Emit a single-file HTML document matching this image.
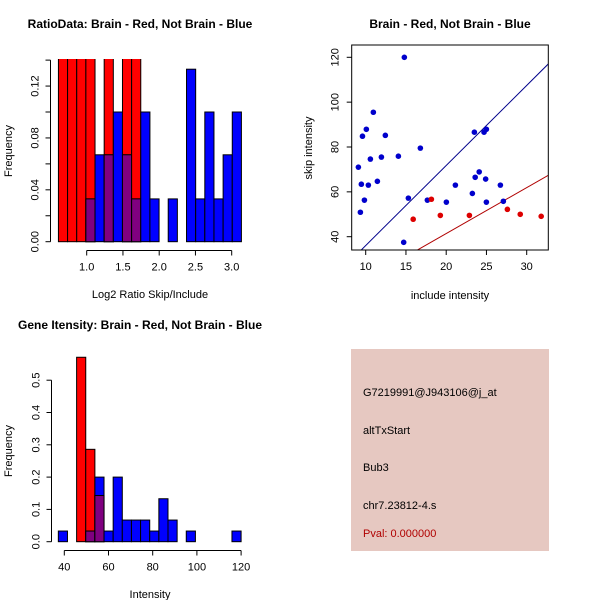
<!DOCTYPE html>
<html><head><meta charset="utf-8"><style>
body{margin:0;background:#fff}
svg{display:block;font-family:"Liberation Sans",sans-serif}
</style></head><body>
<svg id="s" width="600" height="600" xmlns="http://www.w3.org/2000/svg">
<rect width="600" height="600" fill="#fff"/>
<text x="140" y="28" font-size="12" font-weight="bold" text-anchor="middle">RatioData: Brain - Red, Not Brain - Blue</text>
<text x="150" y="298" font-size="11" text-anchor="middle">Log2 Ratio Skip/Include</text>
<text x="12" y="151" font-size="11" text-anchor="middle" transform="rotate(-90 12 151)">Frequency</text>
<text x="450" y="28" font-size="12" font-weight="bold" text-anchor="middle">Brain - Red, Not Brain - Blue</text>
<text x="450" y="299" font-size="11" text-anchor="middle">include intensity</text>
<text x="312" y="148" font-size="11" text-anchor="middle" transform="rotate(-90 312 148)">skip intensity</text>
<text x="140" y="329" font-size="12" font-weight="bold" text-anchor="middle">Gene Itensity: Brain - Red, Not Brain - Blue</text>
<text x="150" y="598" font-size="11" text-anchor="middle">Intensity</text>
<text x="12" y="451" font-size="11" text-anchor="middle" transform="rotate(-90 12 451)">Frequency</text>
<g>
<rect x="351" y="349" width="198" height="202" fill="#e6c8c1"/>
<text x="363" y="396" font-size="11">G7219991@J943106@j_at</text>
<text x="363" y="434" font-size="11">altTxStart</text>
<text x="363" y="471" font-size="11">Bub3</text>
<text x="363" y="509" font-size="11">chr7.23812-4.s</text>
<text x="363" y="537" font-size="11" fill="#b00000">Pval: 0.000000</text>
</g>
</svg>
<script>
// Ratio histogram data
const ratioStart = 0.61, ratioBinWidth = 0.1262;
const ratioRed = [0.143,0.143,0.143,0.143,0,0.143,0,0.143,0.143,0,0,0,0,0,0,0,0,0,0,0];
const ratioBlue = [0,0,0,0.033,0.067,0.067,0.1,0.067,0.033,0.1,0.033,0,0.033,0,0.133,0.033,0.1,0.033,0.067,0.1];
const ratioYTicks = [0,0.02,0.04,0.06,0.08,0.1,0.12,0.14];
const ratioYLabels = ["0.00","","0.04","","0.08","","0.12",""];
const ratioXTicks = [1.0,1.5,2.0,2.5,3.0];
const ratioXLabels = ["1.0","1.5","2.0","2.5","3.0"];
// Intensity histogram data
const intStart = 37.3, intBinWidth = 4.135;
const intRed = [0,0,0.571,0.286,0.143,0,0,0,0,0,0,0,0,0,0,0,0,0,0,0];
const intBlue = [0.033,0,0,0.033,0.2,0.033,0.2,0.067,0.067,0.067,0.033,0.133,0.067,0,0.033,0,0,0,0,0.033];
const intYTicks = [0,0.1,0.2,0.3,0.4,0.5];
const intYLabels = ["0.0","0.1","0.2","0.3","0.4","0.5"];
const intXTicks = [40,60,80,100,120];
const intXLabels = ["40","60","80","100","120"];
// Scatter data
const blueX = [14.8,10.95,10.08,9.6,12.44,9.09,10.58,11.95,14.06,16.79,9.46,10.33,11.45,9.84,9.34,15.3,14.72,17.66,20.02,21.14,23.25,23.5,23.6,24.1,24.7,24.99,24.9,24.99,26.73,27.1];
const blueY = [120,95.5,87.9,84.8,85.2,71.0,74.6,75.5,75.9,79.5,63.4,63.0,64.7,56.3,50.9,57.2,37.5,56.3,55.4,63.0,59.3,86.6,66.5,68.9,86.6,87.9,65.7,55.4,63.0,55.8];
const redX = [15.9,18.16,19.27,22.88,27.6,29.2,31.8];
const redY = [47.8,56.7,49.5,49.5,52.2,50.0,49.1];
const lineSlopes = [3.57,2.05];
const lineIntercepts = [0.35,0.4];
const scatterXTicks = [10,15,20,25,30];
const scatterYTicks = [40,60,80,100,120];

const NS="http://www.w3.org/2000/svg";
const svg=document.getElementById('s');
function mk(tag,attrs,parent){const e=document.createElementNS(NS,tag);for(const k in attrs)e.setAttribute(k,attrs[k]);(parent||svg).appendChild(e);return e;}

function hist(o){
  const g=mk('g',{});
  
  
  const X=v=>o.x0px+(v-o.x0)*o.xs, Y=v=>o.y0px-v*o.ys;
  const clipId=o.name+'-clip';
  const cp=mk('clipPath',{id:clipId},g);
  mk('rect',{x:0,y:o.topPx,width:600,height:o.y0px-o.topPx+1},cp);
  const bars=mk('g',{'clip-path':'url(#'+clipId+')'},g);
  for(let i=0;i<o.red.length;i++){
    const l=X(o.start+i*o.bw), r=X(o.start+(i+1)*o.bw);
    const rv=o.red[i], bv=o.blue[i], m=Math.min(rv,bv);
    if(rv>0){const e=mk('rect',{x:l,y:Y(rv),width:r-l,height:Y(0)-Y(rv),fill:'#ff0000',stroke:'#000','stroke-width':1},bars);
      
      }
    if(bv>0){const e=mk('rect',{x:l,y:Y(bv),width:r-l,height:Y(0)-Y(bv),fill:'#0000ff',stroke:'#000','stroke-width':1},bars);
      
      }
    if(m>0){const e=mk('rect',{x:l,y:Y(m),width:r-l,height:Y(0)-Y(m),fill:'#800080',stroke:'#000','stroke-width':1},bars);
      
      }
  }
  // y axis
  const ya=mk('g',{},g);
  
  
  const ax=o.yAxisX;
  mk('line',{x1:ax,x2:ax,y1:Y(o.yt[0]),y2:Y(o.yt[o.yt.length-1]),stroke:'#000'},ya);
  o.yt.forEach((t,i)=>{mk('line',{x1:ax-5,x2:ax,y1:Y(t),y2:Y(t),stroke:'#000'},ya);
    if(o.yl[i]){const tx=mk('text',{x:ax-12,y:Y(t),'font-size':11,'text-anchor':'middle',transform:`rotate(-90 ${ax-12} ${Y(t)})`},ya);tx.textContent=o.yl[i];}});
  const xa=mk('g',{},g);
  
  
  const ay=o.xAxisY;
  mk('line',{x1:X(o.xt[0]),x2:X(o.xt[o.xt.length-1]),y1:ay,y2:ay,stroke:'#000'},xa);
  o.xt.forEach((t,i)=>{mk('line',{x1:X(t),x2:X(t),y1:ay,y2:ay+5,stroke:'#000'},xa);
    const tx=mk('text',{x:X(t),y:ay+20,'font-size':11,'text-anchor':'middle'},xa);tx.textContent=o.xl[i];});
}
hist({name:'ratio-histogram',start:ratioStart,bw:ratioBinWidth,red:ratioRed,blue:ratioBlue,
  x0:1.0,x0px:86.7,xs:72.5,y0px:241.7,ys:1297,topPx:59,yt:ratioYTicks,yl:ratioYLabels,xt:ratioXTicks,xl:ratioXLabels,yAxisX:50.5,xAxisY:250.5});
hist({name:'intensity-histogram',start:intStart,bw:intBinWidth,red:intRed,blue:intBlue,
  x0:40,x0px:64.3,xs:2.21,y0px:541.7,ys:323,topPx:340,yt:intYTicks,yl:intYLabels,xt:intXTicks,xl:intXLabels,yAxisX:51.5,xAxisY:550.5});

// scatter
(function(){
  const L=351.7,R=548.3,T=45,B=250;
  const X=v=>365.7+(v-10)*8.05, Y=v=>57.3+(120-v)*2.2425;
  const g=mk('g',{});
  
  
  const cp=mk('clipPath',{id:'sc-clip'},g);
  mk('rect',{x:L,y:T,width:R-L,height:B-T},cp);
  const pg=mk('g',{'clip-path':'url(#sc-clip)'},g);
  const cols=['#00008b','#b00000'];
  lineSlopes.forEach((s,i)=>{const x1=8,x2=33;
    const e=mk('line',{x1:X(x1),y1:Y(lineIntercepts[i]+s*x1),x2:X(x2),y2:Y(lineIntercepts[i]+s*x2),stroke:cols[i],'stroke-width':1},pg);
    
    });
  blueX.forEach((x,i)=>{const e=mk('circle',{cx:X(x),cy:Y(blueY[i]),r:2.8,fill:'#0000cc'},pg);
    
    });
  redX.forEach((x,i)=>{const e=mk('circle',{cx:X(x),cy:Y(redY[i]),r:2.8,fill:'#dd0000'},pg);
    
    });
  const box=mk('rect',{x:L,y:T,width:R-L,height:B-T,fill:'none',stroke:'#000'},g);
  
  
  scatterXTicks.forEach(t=>{mk('line',{x1:X(t),x2:X(t),y1:B,y2:B+5,stroke:'#000'},g);
    const tx=mk('text',{x:X(t),y:B+20,'font-size':11,'text-anchor':'middle'},g);tx.textContent=t;
    
    });
  scatterYTicks.forEach(t=>{mk('line',{x1:L-5,x2:L,y1:Y(t),y2:Y(t),stroke:'#000'},g);
    const tx=mk('text',{x:L-13,y:Y(t),'font-size':11,'text-anchor':'middle',transform:`rotate(-90 ${L-13} ${Y(t)})`},g);tx.textContent=t;
    
    });
})();
</script>
</body></html>
